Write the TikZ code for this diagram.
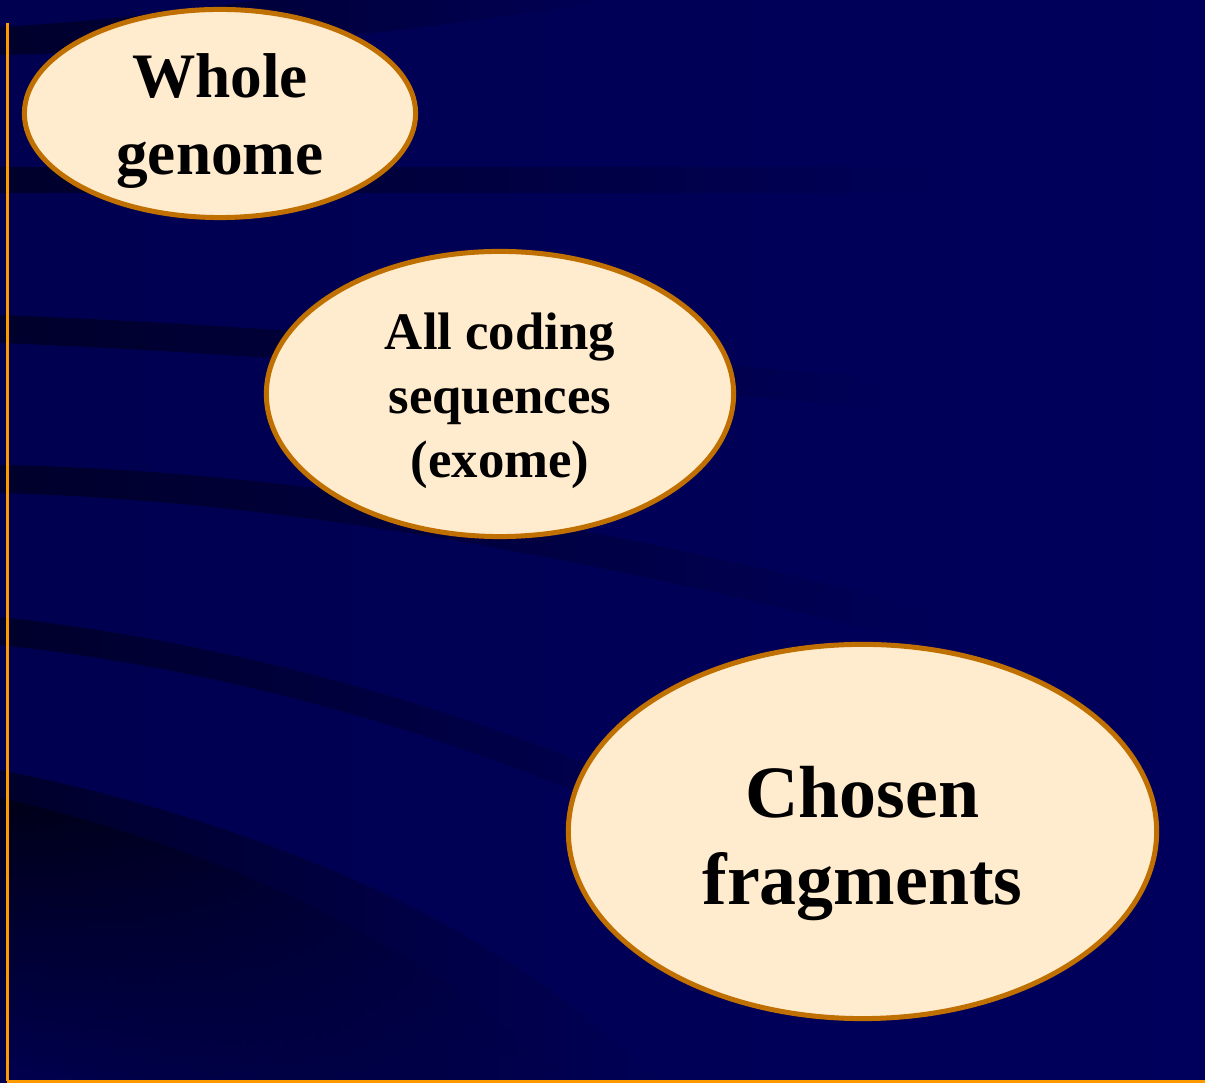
\documentclass[tikz,border=0pt]{standalone}
\usepackage{fontspec}
\setmainfont{Liberation Serif}
\usetikzlibrary{shapes.geometric,fadings}

\definecolor{navy}{RGB}{0,0,92}
\definecolor{navyleft}{RGB}{0,0,80}
\definecolor{streak}{RGB}{0,0,44}
\definecolor{deep}{RGB}{0,0,24}
\definecolor{cream}{RGB}{255,235,205}
\definecolor{rim}{RGB}{192,112,0}
\definecolor{frameline}{RGB}{255,153,0}

% streaks stay dark for most of their run, then die away to the right
\tikzfading[name=slowfade, left color=transparent!0, middle color=transparent!25, right color=transparent!100]

\tikzset{
  bubble/.style={ellipse, draw=rim, line width=0.05cm, fill=cream, inner sep=0pt},
  bubbletext/.style={align=center, text=black, inner sep=0pt},
  band/.style={fill=streak, path fading=slowfade},
}

\begin{document}
\begin{tikzpicture}[x=0.01cm, y=-0.01cm]
  % backdrop
  \useasboundingbox (0,0) rectangle (1205,1083);
  \shade[left color=navyleft, right color=navy] (0,0) rectangle (1205,1083);

  % dark sweeping streaks
  \fill[band] (0,27) .. controls (120,20) and (200,8) .. (260,0) -- (620,0)
              .. controls (540,12) and (460,22) .. (400,30)
              .. controls (250,45) and (120,52) .. (0,55) -- cycle;
  \fill[band] (0,167) -- (950,167) -- (950,193) -- (0,193) -- cycle;
  \fill[band] (0,315) .. controls (250,325) and (500,345) .. (900,380)
              -- (900,410) .. controls (500,375) and (250,353) .. (0,343) -- cycle;
  \fill[band] (0,465) .. controls (250,470) and (550,510) .. (950,615)
              -- (950,650) .. controls (550,545) and (250,500) .. (0,493) -- cycle;
  \fill[band] (0,617) .. controls (250,645) and (500,715) .. (760,840)
              -- (760,875) .. controls (500,745) and (250,672) .. (0,645) -- cycle;
  % deep shadow in the lower left corner
  \fill[band] (0,770) .. controls (250,820) and (500,920) .. (660,1083)
              -- (0,1083) -- cycle;
  \shade[top color=deep, bottom color=navyleft, path fading=slowfade]
              (0,798) .. controls (230,850) and (430,950) .. (570,1083)
              -- (0,1083) -- cycle;

  % frame lines
  \coordinate (ftop) at (7.5,23);
  \coordinate (fcorner) at (7.5,1081.5);
  \coordinate (fright) at (1205,1081.5);
  \draw[frameline, line width=0.02cm] (ftop) -- (fcorner);
  \draw[frameline, line width=0.03cm] (fcorner) -- (fright);

  % the three ellipses
  \node[bubble, minimum width=3.91cm, minimum height=2.08cm] (whole) at (220,113.5) {};
  \node[bubble, minimum width=4.67cm, minimum height=2.85cm] (exome) at (500,394) {};
  \node[bubble, minimum width=5.88cm, minimum height=3.74cm] (chosen) at (862.5,831.5) {};

  \node[bubbletext, font=\bfseries\fontsize{18}{21.9}\selectfont]
    (wholetxt) at ([yshift=-0.08cm]whole.center) {Whole\\genome};
  \node[bubbletext, font=\bfseries\fontsize{15}{18.2}\selectfont]
    (exometxt) at ([yshift=-0.07cm]exome.center) {All coding\\sequences\\(exome)};
  \node[bubbletext, font=\bfseries\fontsize{21}{24.8}\selectfont]
    (chosentxt) at ([yshift=-0.12cm]chosen.center) {Chosen\\fragments};
\end{tikzpicture}
\end{document}
